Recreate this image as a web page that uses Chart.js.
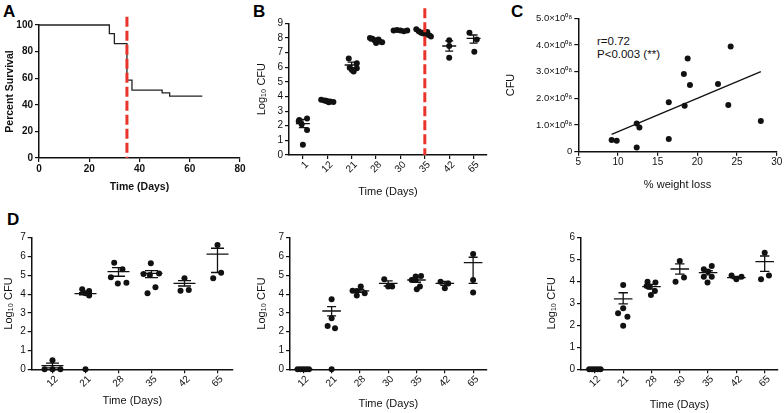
<!DOCTYPE html>
<html><head><meta charset="utf-8">
<script src="https://cdn.jsdelivr.net/npm/chart.js@4.4.1/dist/chart.umd.min.js"></script>
<style>
html,body{margin:0;padding:0;background:#fff;}
body{width:784px;height:413px;position:relative;overflow:hidden;font-family:'Liberation Sans',Arial,sans-serif;}
canvas{position:absolute;}
.lbl{position:absolute;font-weight:bold;font-size:17px;line-height:17px;color:#000;}
.ann{position:absolute;font-size:11.5px;line-height:13px;color:#111;white-space:nowrap;}
</style></head><body>
<div class="lbl" style="left:3px;top:3px">A</div>
<div class="lbl" style="left:253px;top:3px">B</div>
<div class="lbl" style="left:511px;top:3px">C</div>
<div class="lbl" style="left:7px;top:211px">D</div>
<div class="ann" style="left:597px;top:34.5px">r=0.72<br>P&lt;0.003 (**)</div>
<canvas id="cA"></canvas>
<canvas id="cB"></canvas>
<canvas id="cC"></canvas>
<canvas id="cD1"></canvas>
<canvas id="cD2"></canvas>
<canvas id="cD3"></canvas>
<script>
// ---------- DATA ----------
// A: Kaplan-Meier survival
const aTime = [0, 28, 30, 35, 37, 49, 52, 65];
const aSurvival = [100, 93.5, 86, 58.5, 51, 49, 46.5, 46.5];
const aDashDay = 35;

// B: lung Log10 CFU
const bDays = ['1', '12', '21', '28', '30', '35', '42', '65'];
const bLog = [
  [2.4, 2.5, 2.3, 2.1, 1.7, 0.7],
  [3.78, 3.72, 3.68, 3.65, 3.62, 3.7, 3.6],
  [6.6, 6.27, 5.97, 5.81, 5.7, 5.92],
  [8.0, 7.95, 7.85, 7.8, 7.75, 7.7, 7.65, 7.9],
  [8.5, 8.55, 8.5, 8.45, 8.5],
  [8.6, 8.45, 8.35, 8.3, 8.25, 8.2, 8.1, 8.35, 8.4],
  [7.85, 7.45, 6.65],
  [8.35, 7.9, 7.05]
];
const bMean = [2.15, 3.68, 6.15, 7.8, 8.5, 8.3, 7.45, 7.97];
const bLow  = [1.87, 3.63, 5.95, 7.74, 8.47, 8.25, 7.1, 7.65];
const bHigh = [2.43, 3.73, 6.35, 7.86, 8.53, 8.35, 7.8, 8.2];
const bDashIndex = 5;

// C: CFU vs % weight loss
const cWeightLoss = [9.2, 9.84, 12.36, 12.7, 12.36, 16.4, 16.4, 18.3, 18.78, 18.4, 19.07, 22.6, 24.2, 23.9, 28.0];
const cCFU = [0.44e8, 0.41e8, 1.06e8, 0.91e8, 0.16e8, 1.85e8, 0.48e8, 2.91e8, 3.49e8, 1.72e8, 2.5e8, 2.54e8, 3.94e8, 1.75e8, 1.15e8];
const cFitX = [9.2, 28.0];
const cFitY = [0.65e8, 3.0e8];

// D: three organs, Log10 CFU
const d1Days = ['12', '21', '28', '35', '42', '65'];
const d1Log = [
  [0, 0.48, 0, 0],
  [4.26, 4.17, 3.92, 4.05, 0],
  [5.67, 5.32, 4.89, 4.57, 4.6],
  [5.64, 5.07, 5.02, 5.1, 4.36, 4.04],
  [4.84, 4.18, 4.22],
  [6.61, 5.14, 4.84]
];
const d1Mean = [0.2, 4.02, 5.2, 5.1, 4.57, 6.13];
const d1Low  = [0.08, 3.96, 4.95, 4.88, 4.43, 5.15];
const d1High = [0.33, 4.08, 5.41, 5.25, 4.72, 6.44];

const d2Days = ['12', '21', '28', '30', '35', '42', '65'];
const d2Log = [
  [0, 0, 0, 0, 0],
  [3.72, 2.71, 2.3, 2.18, 0],
  [4.4, 4.17, 4.18, 3.92, 4.04],
  [4.79, 4.4, 4.4],
  [4.93, 4.96, 4.75, 4.4, 4.26, 4.75],
  [4.66, 4.57, 4.31],
  [6.13, 4.75, 4.08]
];
const d2Mean = [0, 3.1, 4.17, 4.57, 4.75, 4.57, 5.67];
const d2Low  = [0, 2.84, 4.09, 4.43, 4.63, 4.47, 4.57];
const d2High = [0, 3.33, 4.25, 4.7, 4.88, 4.67, 5.96];

const d3Days = ['12', '21', '28', '30', '35', '42', '65'];
const d3Log = [
  [0, 0, 0, 0, 0],
  [3.83, 2.55, 2.77, 2.39, 1.98],
  [3.98, 3.95, 3.76, 3.56, 3.38, 3.79],
  [4.92, 3.98, 4.17],
  [4.55, 4.7, 4.21, 4.21, 3.95, 4.44],
  [4.26, 4.09, 4.21],
  [5.3, 4.09, 4.26]
];
const d3Mean = [0, 3.2, 3.76, 4.56, 4.39, 4.17, 4.89];
const d3Low  = [0, 2.97, 3.65, 4.33, 4.29, 4.12, 4.45];
const d3High = [0, 3.48, 3.86, 4.79, 4.48, 4.22, 5.15];

// ---------- LAYOUT (horizontal spread of dots, in category widths) ----------
const bSpread = [
  [-0.15, 0.17, -0.17, -0.05, 0.17, 0],
  [-0.25, -0.12, 0, 0.12, 0.25, -0.05, 0.06],
  [-0.12, 0.21, -0.08, 0.01, 0.08, 0.21],
  [-0.25, -0.15, -0.05, 0.05, 0.15, 0.25, 0, 0.1],
  [-0.28, -0.14, 0, 0.14, 0.28],
  [-0.35, -0.25, -0.15, -0.05, 0.05, 0.15, 0.25, -0.1, 0.1],
  [0, 0, 0],
  [-0.17, 0.13, 0.03]
];
const d1Spread = [
  [-0.24, 0, 0, 0.24],
  [-0.1, 0.11, 0.11, 0, 0],
  [-0.13, 0.12, -0.23, -0.02, 0.24],
  [-0.02, -0.24, -0.05, 0.23, 0.12, -0.12],
  [0, -0.12, 0.13],
  [0, 0.11, -0.13]
];
const d2Spread = [
  [-0.2, -0.1, 0, 0.1, 0.2],
  [0, 0, -0.14, 0.12, 0],
  [0.03, -0.11, -0.26, -0.11, 0.17],
  [-0.14, 0, 0.14],
  [-0.03, 0.16, -0.03, 0.12, 0.01, -0.17],
  [-0.15, 0.12, 0],
  [0, 0, 0]
];
const d3Spread = [
  [-0.2, -0.1, 0, 0.1, 0.2],
  [0, -0.18, 0, 0.15, 0],
  [-0.14, 0.14, -0.06, 0.12, -0.02, -0.17],
  [0, -0.15, 0.15],
  [-0.15, 0.13, -0.15, 0.13, -0.02, 0],
  [-0.17, 0, 0.18],
  [0, -0.13, 0.15]
];

// ---------- HELPERS ----------
const FONT = "'Liberation Sans', Arial, sans-serif";
const BLACK = '#111';
const RED = '#e8342a';

function place(id, b) {
  const c = document.getElementById(id);
  c.width = b.w; c.height = b.h;
  c.style.left = b.l + 'px'; c.style.top = b.t + 'px';
  c.style.width = b.w + 'px'; c.style.height = b.h + 'px';
  return c;
}

function axis(kind, o) {
  const s = {
    type: 'linear', min: o.min, max: o.max,
    border: { display: true, color: BLACK, width: 1.5 },
    grid: { display: true, drawOnChartArea: false, drawTicks: true, tickLength: 4, color: BLACK, lineWidth: 1.2 },
    ticks: {
      color: BLACK, font: { family: FONT, size: o.tickSize || 10, weight: o.bold ? 'bold' : 'normal' },
      padding: o.tickPad === undefined ? 2 : o.tickPad, autoSkip: false,
      maxRotation: o.rot || 0, minRotation: o.rot || 0, labelOffset: o.labelOffset || 0
    },
    title: {
      display: true, text: o.title, color: BLACK,
      font: { family: FONT, size: o.titleSize || 11, weight: o.bold ? 'bold' : 'normal' },
      padding: kind === 'x' ? { top: 0, bottom: o.titlePad } : { top: o.titlePad, bottom: 0 }
    }
  };
  if (o.step) s.ticks.stepSize = o.step;
  if (o.cb) s.ticks.callback = o.cb;
  if (o.fixedTicks) s.afterBuildTicks = sc => { sc.ticks = o.fixedTicks.map(v => ({ value: v })); };
  if (kind === 'x') s.afterFit = sc => { sc.height = o.size; };
  else s.afterFit = sc => { sc.width = o.size; };
  return s;
}

function statsPlugin(mean, lo, hi, meanHalf, capHalf) {
  return {
    id: 'meanSem',
    afterDatasetsDraw(chart) {
      const ctx = chart.ctx, xs = chart.scales.x, ys = chart.scales.y;
      ctx.save();
      ctx.strokeStyle = BLACK; ctx.lineWidth = 1.3;
      mean.forEach((m, i) => {
        const cx = xs.getPixelForValue(i);
        const ym = ys.getPixelForValue(m), yl = ys.getPixelForValue(lo[i]), yh = ys.getPixelForValue(hi[i]);
        ctx.beginPath();
        ctx.moveTo(cx - meanHalf, ym); ctx.lineTo(cx + meanHalf, ym);
        if (Math.abs(yl - yh) > 0.5) {
          ctx.moveTo(cx, yl); ctx.lineTo(cx, yh);
          ctx.moveTo(cx - capHalf, yl); ctx.lineTo(cx + capHalf, yl);
          ctx.moveTo(cx - capHalf, yh); ctx.lineTo(cx + capHalf, yh);
        }
        ctx.stroke();
      });
      ctx.restore();
    }
  };
}

function dashPlugin(xVal, topPx) {
  return {
    id: 'dashMark',
    afterDatasetsDraw(chart) {
      const ctx = chart.ctx, x = chart.scales.x.getPixelForValue(xVal);
      ctx.save();
      ctx.strokeStyle = RED; ctx.lineWidth = 3; ctx.setLineDash([10, 4]);
      ctx.beginPath(); ctx.moveTo(x, topPx); ctx.lineTo(x, chart.chartArea.bottom); ctx.stroke();
      ctx.restore();
    }
  };
}

function dots(values, spread) {
  const pts = [];
  values.forEach((grp, i) => grp.forEach((v, j) => pts.push({ x: i + spread[i][j], y: v })));
  return pts;
}

function baseOptions(b, scales) {
  return {
    responsive: false, animation: false, devicePixelRatio: 1,
    layout: { autoPadding: false, padding: { top: b.pt, right: b.pr, left: 0, bottom: 0 } },
    plugins: { legend: { display: false }, tooltip: { enabled: false } },
    scales: scales
  };
}

Chart.defaults.font.family = FONT;

// ---------- PANEL A ----------
(function () {
  const b = { l: 0, t: 0, w: 260, h: 200, pt: 25, pr: 20 };
  const c = place('cA', b);
  new Chart(c, {
    type: 'scatter',
    data: { datasets: [{
      data: aTime.map((t, i) => ({ x: t, y: aSurvival[i] })),
      showLine: true, stepped: 'before', borderColor: '#222', borderWidth: 1.3,
      pointRadius: 0, clip: false
    }] },
    options: baseOptions(b, {
      x: axis('x', { min: 0, max: 80, step: 20, title: 'Time (Days)', bold: true, titleSize: 10.5, titlePad: 6.7, size: 42, tickPad: 1 }),
      y: axis('y', { min: 0, max: 100, step: 20, title: 'Percent Survival', bold: true, titleSize: 10.5, titlePad: 3.5, size: 39 })
    }),
    plugins: [dashPlugin(aDashDay, 16.7)]
  });
})();

// ---------- PANEL B ----------
(function () {
  const b = { l: 252, t: 0, w: 263, h: 200, pt: 23.3, pr: 28 };
  const c = place('cB', b);
  new Chart(c, {
    type: 'scatter',
    data: { datasets: [{ data: dots(bLog, bSpread), backgroundColor: BLACK, borderWidth: 0, pointRadius: 3, clip: false }] },
    options: baseOptions(b, {
      x: axis('x', { min: -0.57, max: 7.55, fixedTicks: bDays.map((d, i) => i), cb: v => bDays[v], rot: 45, labelOffset: 4, tickPad: 0,
                     title: 'Time (Days)', titlePad: 1.4, size: 45 }),
      y: axis('y', { min: 0, max: 9, step: 1, title: 'Log\u2081\u2080 CFU', titlePad: 3.4, size: 37 })
    }),
    plugins: [statsPlugin(bMean, bLow, bHigh, 7, 4), dashPlugin(bDashIndex, 8.3)]
  });
})();

// ---------- PANEL C ----------
(function () {
  const b = { l: 502, t: 0, w: 282, h: 200, pt: 18.3, pr: 7.3 };
  const c = place('cC', b);
  new Chart(c, {
    type: 'scatter',
    data: { datasets: [
      { data: cWeightLoss.map((w, i) => ({ x: w, y: cCFU[i] })), backgroundColor: BLACK, borderWidth: 0, pointRadius: 3, clip: false },
      { data: cFitX.map((x, i) => ({ x: x, y: cFitY[i] })), showLine: true, borderColor: BLACK, borderWidth: 1.3, pointRadius: 0 }
    ] },
    options: baseOptions(b, {
      x: axis('x', { min: 5, max: 30, step: 5, title: '% weight loss', titlePad: 8.4, size: 48.3, tickPad: 1 }),
      y: axis('y', { min: 0, max: 5e8, step: 1e8, title: 'CFU', titlePad: 2.4, size: 76.3, tickSize: 9.5,
                     cb: v => v === 0 ? '0' : (v / 1e8).toFixed(1) + '\u00d710\u2070\u2078' })
    })
  });
})();

// ---------- PANEL D ----------
function panelD(id, b, days, vals, spread, mean, lo, hi, xmin, xmax, ymax, ysize, tpad, xtpad, meanHalf, capHalf) {
  const c = place(id, b);
  new Chart(c, {
    type: 'scatter',
    data: { datasets: [{ data: dots(vals, spread), backgroundColor: BLACK, borderWidth: 0, pointRadius: 3, clip: false }] },
    options: baseOptions(b, {
      x: axis('x', { min: xmin, max: xmax, fixedTicks: days.map((d, i) => i), cb: v => days[v], rot: 45, labelOffset: 4, tickPad: 0,
                     title: 'Time (Days)', titlePad: xtpad, size: 43.7 }),
      y: axis('y', { min: 0, max: ymax, step: 1, title: 'Log\u2081\u2080 CFU', titlePad: tpad, size: ysize })
    }),
    plugins: [statsPlugin(mean, lo, hi, meanHalf, capHalf)]
  });
}
panelD('cD1', { l: 0, t: 205, w: 255, h: 208, pt: 32.7, pr: 22 }, d1Days, d1Log, d1Spread, d1Mean, d1Low, d1High, -0.63, 5.47, 7, 31.7, 1.9, 5.9, 11, 6.5);
panelD('cD2', { l: 252, t: 205, w: 263, h: 208, pt: 32.7, pr: 28.3 }, d2Days, d2Log, d2Spread, d2Mean, d2Low, d2High, -0.47, 6.48, 7, 38, 3.4, 2.9, 9.3, 4.5);
panelD('cD3', { l: 543, t: 205, w: 241, h: 208, pt: 32.3, pr: 6 }, d3Days, d3Log, d3Spread, d3Mean, d3Low, d3High, -0.49, 6.47, 6, 38, 2.4, 1.4, 9.3, 4.7);
</script>
</body></html>
